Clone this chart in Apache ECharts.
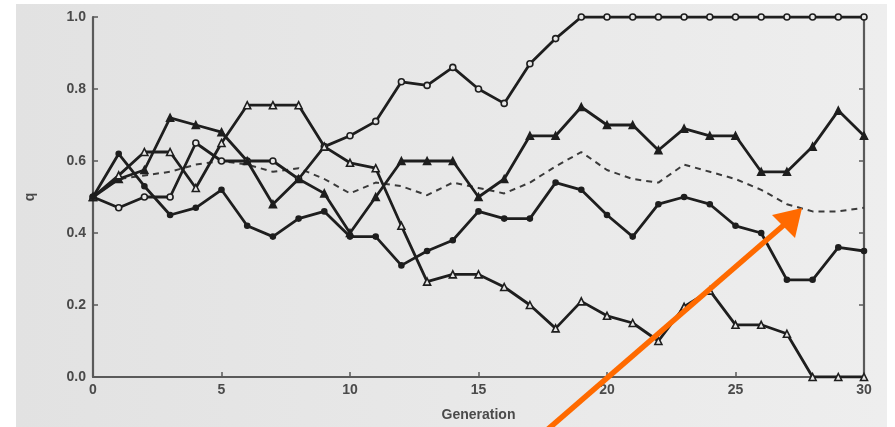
<!DOCTYPE html>
<html>
<head>
<meta charset="utf-8">
<script src="https://cdn.jsdelivr.net/npm/echarts@6/dist/echarts.min.js"></script>
<style>
html,body{margin:0;padding:0;background:#ffffff;}
#chart{width:895px;height:427px;}
</style>
</head>
<body>
<div id="chart"></div>
<script>
// Generations (x axis)
var generations = [0,1,2,3,4,5,6,7,8,9,10,11,12,13,14,15,16,17,18,19,20,21,22,23,24,25,26,27,28,29,30];
var xTicks = [0,5,10,15,20,25,30];
var yTicks = [0.0,0.2,0.4,0.6,0.8,1.0];

// Replicate populations: allele frequency q per generation
var popOpenCircles = [0.50,0.47,0.50,0.50,0.65,0.60,0.60,0.60,0.55,0.64,0.67,0.71,0.82,0.81,0.86,0.80,0.76,0.87,0.94,1.00,1.00,1.00,1.00,1.00,1.00,1.00,1.00,1.00,1.00,1.00,1.00];
var popFilledTriangles = [0.50,0.55,0.575,0.72,0.70,0.68,0.60,0.48,0.55,0.51,0.40,0.50,0.60,0.60,0.60,0.50,0.55,0.67,0.67,0.75,0.70,0.70,0.63,0.69,0.67,0.67,0.57,0.57,0.64,0.74,0.67];
var popOpenTriangles = [0.50,0.56,0.625,0.625,0.525,0.65,0.755,0.755,0.755,0.64,0.595,0.58,0.42,0.265,0.285,0.285,0.25,0.20,0.135,0.21,0.17,0.15,0.10,0.195,0.24,0.145,0.145,0.12,0.00,0.00,0.00];
var popFilledCircles = [0.50,0.62,0.53,0.45,0.47,0.52,0.42,0.39,0.44,0.46,0.39,0.39,0.31,0.35,0.38,0.46,0.44,0.44,0.54,0.52,0.45,0.39,0.48,0.50,0.48,0.42,0.40,0.27,0.27,0.36,0.35];
var meanQ = [0.50,0.55,0.56,0.57,0.59,0.60,0.59,0.57,0.58,0.55,0.51,0.54,0.53,0.505,0.54,0.525,0.51,0.54,0.585,0.625,0.575,0.55,0.54,0.59,0.57,0.55,0.52,0.48,0.46,0.46,0.47];

var xTitle = 'Generation';
var yTitle = 'q';

function pairs(vals){ return generations.map(function(g,i){ return [g, vals[i]]; }); }

var chart = echarts.init(document.getElementById('chart'), null, {renderer:'canvas'});
var paper = '#e7e7e7';
var ink = '#1e1e1e';
var axisCol = '#5a5a5a';
var labelStyle = {color:'#4a4a4a', fontSize:14, fontWeight:'bold', fontFamily:'Liberation Sans, Arial, sans-serif'};

function lineSeries(name, vals, symbol, size, filled){
  return {
    name:name, type:'line', data:pairs(vals), symbol:symbol, symbolSize:size,
    showSymbol:true, animation:false,
    lineStyle:{color:ink, width:2.8},
    itemStyle:{color: filled ? ink : paper, borderColor:ink, borderWidth:1.6},
    z:3
  };
}

chart.setOption({
  animation:false,
  backgroundColor:'#ffffff',
  graphic:[
    {type:'rect', left:16, top:4, shape:{width:871, height:423}, z:-10,
     style:{fill:{type:'linear', x:0, y:0, x2:1, y2:0, colorStops:[{offset:0,color:'#e2e2e2'},{offset:1,color:'#eeeeee'}]}}},
    {type:'line', shape:{x1:547, y1:430, x2:785, y2:224}, z:100,
     style:{stroke:'#ff6a00', lineWidth:5.5}},
    {type:'polygon', shape:{points:[[802,208],[772,215],[795,238]]}, z:101,
     style:{fill:'#ff6a00'}}
  ],
  grid:{left:93, right:31, top:17, bottom:50},
  xAxis:{
    type:'value', min:0, max:30, interval:5,
    name:xTitle, nameLocation:'middle', nameGap:31,
    nameTextStyle:{color:'#4a4a4a', fontSize:14, fontWeight:'bold', fontFamily:'Liberation Sans, Arial, sans-serif'},
    axisLine:{show:true, onZero:false, lineStyle:{color:axisCol, width:2.2}},
    axisTick:{show:true, inside:true, length:5, lineStyle:{color:axisCol, width:1.5}},
    axisLabel:Object.assign({margin:6, customValues:xTicks}, labelStyle),
    splitLine:{show:false}
  },
  yAxis:[{
    type:'value', min:0, max:1, interval:0.2,
    name:yTitle, nameLocation:'middle', nameGap:56, nameRotate:90,
    nameTextStyle:{color:'#4a4a4a', fontSize:14, fontWeight:'bold', fontFamily:'Liberation Sans, Arial, sans-serif'},
    axisLine:{show:true, onZero:false, lineStyle:{color:axisCol, width:2.2}},
    axisTick:{show:true, inside:true, length:5, lineStyle:{color:axisCol, width:1.5}},
    axisLabel:Object.assign({margin:7, formatter:function(v){return v.toFixed(1);}}, labelStyle),
    splitLine:{show:false}
  },{
    type:'value', min:0, max:1, interval:0.2, position:'right',
    axisLine:{show:true, onZero:false, lineStyle:{color:axisCol, width:2.2}},
    axisTick:{show:true, inside:true, length:5, lineStyle:{color:axisCol, width:1.5}},
    axisLabel:{show:false},
    splitLine:{show:false}
  }],
  series:[
    {
      name:'mean', type:'line', data:pairs(meanQ), symbol:'none', animation:false,
      lineStyle:{color:'#3a3a3a', width:2, type:[6,5]}, z:2
    },
    lineSeries('pop1', popOpenCircles, 'circle', 6, false),
    lineSeries('pop2', popFilledTriangles, 'triangle', 7, true),
    lineSeries('pop3', popOpenTriangles, 'triangle', 7, false),
    lineSeries('pop4', popFilledCircles, 'circle', 5, true)
  ]
});
</script>
</body>
</html>
